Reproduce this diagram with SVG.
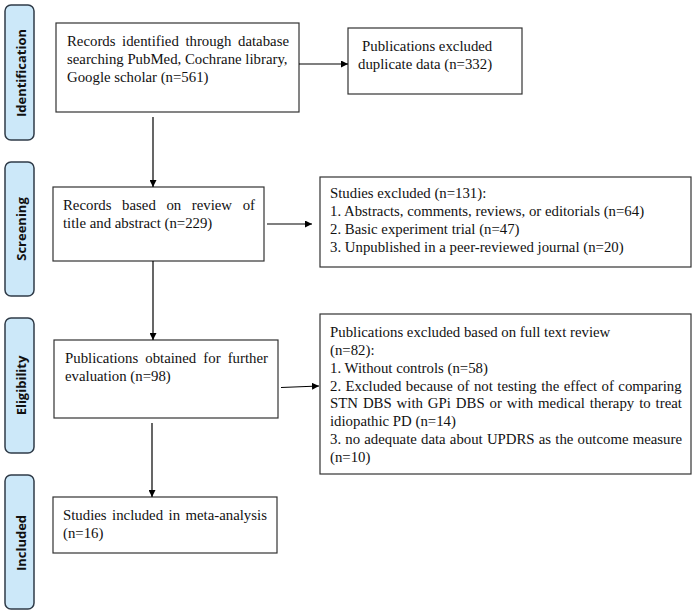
<svg xmlns="http://www.w3.org/2000/svg" width="697" height="616" viewBox="0 0 697 616">
<defs>
<marker id="ah" viewBox="0 0 10 10" refX="10" refY="5" markerWidth="7" markerHeight="7" markerUnits="userSpaceOnUse" orient="auto">
<path d="M0,0 L10,5 L0,10 z" fill="#000"/>
</marker>
<style>
.pill{fill:#cce8f9;stroke:#2f3b48;stroke-width:1.5}
.side{font-family:"Open Sans","DejaVu Sans",sans-serif;font-weight:bold;font-size:13px;fill:#111;text-anchor:middle}
.box{fill:#fff;stroke:#333;stroke-width:1.2}
.t{font-family:"Liberation Serif","Times New Roman",serif;font-size:14.8px;fill:#111}
.c{stroke:#000;stroke-width:1.2;fill:none;marker-end:url(#ah)}
</style>
</defs>
<rect width="697" height="616" fill="#fff"/>
<g id="stage-identification"><rect class="pill" x="5" y="5" width="29" height="135" rx="6"/><text class="side" transform="translate(25.5,73) rotate(-90)">Identification</text></g>
<g id="stage-screening"><rect class="pill" x="5" y="162" width="29" height="134" rx="6"/><text class="side" transform="translate(25.5,229) rotate(-90)">Screening</text></g>
<g id="stage-eligibility"><rect class="pill" x="5" y="318" width="29" height="135" rx="6"/><text class="side" transform="translate(25.5,385.5) rotate(-90)">Eligibility</text></g>
<g id="stage-included"><rect class="pill" x="5" y="475" width="29" height="134" rx="6"/><text class="side" transform="translate(25.5,543) rotate(-90)">Included</text></g>

<g id="n-identified"><rect class="box" x="56" y="23" width="243" height="89"/>
<text class="t" x="67" y="46" word-spacing="2.9">Records identified through database</text>
<text class="t" x="67" y="64">searching PubMed, Cochrane library,</text>
<text class="t" x="67" y="82">Google scholar (n=561)</text></g>

<g id="n-duplicates"><rect class="box" x="348" y="28" width="174" height="66"/>
<text class="t" x="362" y="51">Publications excluded</text>
<text class="t" x="358" y="69">duplicate data (n=332)</text></g>

<g id="n-screened"><rect class="box" x="53" y="187" width="211" height="74"/>
<text class="t" x="63" y="210" word-spacing="6.9">Records based on review of</text>
<text class="t" x="63" y="228">title and abstract (n=229)</text></g>

<g id="n-excluded1"><rect class="box" x="320" y="177" width="371" height="90"/>
<text class="t" x="330" y="198">Studies excluded (n=131):</text>
<text class="t" x="330" y="216">1. Abstracts, comments, reviews, or editorials (n=64)</text>
<text class="t" x="330" y="234">2. Basic experiment trial (n=47)</text>
<text class="t" x="330" y="252">3. Unpublished in a peer-reviewed journal (n=20)</text></g>

<g id="n-fulltext"><rect class="box" x="54" y="340" width="224" height="78"/>
<text class="t" x="65" y="363" word-spacing="3.4">Publications obtained for further</text>
<text class="t" x="65" y="381">evaluation (n=98)</text></g>

<g id="n-excluded2"><rect class="box" x="320" y="314" width="371" height="160"/>
<text class="t" x="330" y="337">Publications excluded based on full text review</text>
<text class="t" x="330" y="355">(n=82):</text>
<text class="t" x="330" y="373">1. Without controls (n=58)</text>
<text class="t" x="330" y="391" word-spacing="0.75">2. Excluded because of not testing the effect of comparing</text>
<text class="t" x="330" y="408" word-spacing="1.24">STN DBS with GPi DBS or with medical therapy to treat</text>
<text class="t" x="330" y="426">idiopathic PD (n=14)</text>
<text class="t" x="330" y="444" word-spacing="0.48">3. no adequate data about UPDRS as the outcome measure</text>
<text class="t" x="330" y="462">(n=10)</text></g>

<g id="n-included"><rect class="box" x="53" y="497" width="224" height="56"/>
<text class="t" x="63" y="520" word-spacing="1.8">Studies included in meta-analysis</text>
<text class="t" x="63" y="538">(n=16)</text></g>

<g id="connectors">
<line class="c" x1="299" y1="64" x2="348" y2="64"/>
<line class="c" x1="153" y1="117" x2="153" y2="187"/>
<line class="c" x1="267" y1="224" x2="312" y2="224"/>
<line class="c" x1="153" y1="261" x2="153" y2="340"/>
<line class="c" x1="281" y1="387.5" x2="319" y2="386"/>
<line class="c" x1="152" y1="423" x2="152" y2="497"/>
</g>
</svg>
